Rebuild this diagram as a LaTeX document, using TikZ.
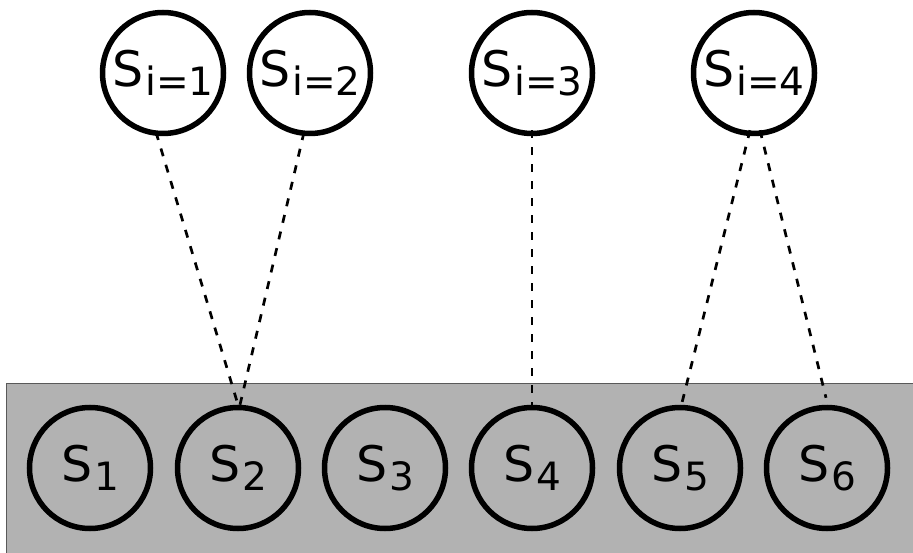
\documentclass[tikz,border=0pt]{standalone}
\usepackage{fontspec}
\setmainfont{DejaVu Sans}
\newcommand{\lbl}[1]{{\fontsize{49}{49}\selectfont S\kern2pt\raisebox{-9pt}{\fontsize{39}{39}\selectfont #1}}}
\tikzset{
  state/.style={circle, draw=black, line width=5.5pt, minimum size=121pt, inner sep=0pt},
  link/.style={line width=2.7pt, dash pattern=on 8pt off 9pt},
  pool/.style={fill=black!30}
}
\begin{document}
\begin{tikzpicture}[x=1pt,y=-1pt]
\useasboundingbox (0,0) rectangle (913,553);
% shaded band holding the lower states
\fill[pool] (6,383) rectangle (916,556);
\draw[black!65, line width=1pt] (6,556) -- (6,383) -- (916,383);
% upper states
\node[state] (t1) at (163,73) {\lbl{i=1}};
\node[state] (t2) at (310,73) {\lbl{i=2}};
\node[state] (t3) at (532,73) {\lbl{i=3}};
\node[state] (t4) at (754,73) {\lbl{i=4}};
% lower states
\node[state] (b1) at (90,468) {\lbl{1}};
\node[state] (b2) at (238,468) {\lbl{2}};
\node[state] (b3) at (385,468) {\lbl{3}};
\node[state] (b4) at (532,468) {\lbl{4}};
\node[state] (b5) at (680,468) {\lbl{5}};
\node[state] (b6) at (827,468) {\lbl{6}};
% dashed links
\draw[link] ([shift={(-7pt,4pt)}]t1.south) -- ([shift={(0pt,0pt)}]b2.north);
\draw[link] ([shift={(-6pt,4pt)}]t2.south) -- ([shift={(2pt,0pt)}]b2.north);
\draw[link] ([shift={(0pt,6pt)}]t3.south) -- (b4.north);
\draw[link] ([shift={(-4pt,6pt)}]t4.south) -- ([shift={(2pt,2pt)}]b5.north);
\draw[link] ([shift={(6pt,6pt)}]t4.south) -- ([shift={(-1pt,7pt)}]b6.north);
\end{tikzpicture}
\end{document}
